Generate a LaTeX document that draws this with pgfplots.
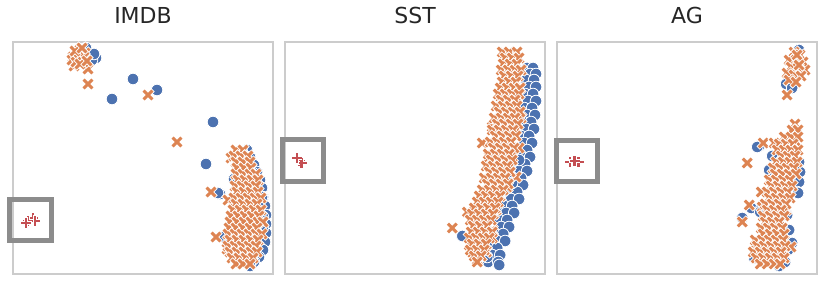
\documentclass[border=0pt]{standalone}
\usepackage{pgfplots}
\pgfplotsset{compat=1.18}
\usepackage{fontspec}
\setmainfont{DejaVu Sans}
\definecolor{sbBlue}{HTML}{4C72B0}
\definecolor{sbOrange}{HTML}{DD8452}
\definecolor{sbRed}{HTML}{C44E52}
\definecolor{frameGray}{HTML}{CCCCCC}
\definecolor{boxGray}{HTML}{8C8C8C}
\definecolor{titleCol}{HTML}{262626}

\pgfdeclareplotmark{wx}{%
  \pgfsetbuttcap
  \pgfsetlinewidth{4.6pt}\pgfsetstrokecolor{white}%
  \pgfpathmoveto{\pgfqpoint{-1.15\pgfplotmarksize}{-1.15\pgfplotmarksize}}%
  \pgfpathlineto{\pgfqpoint{1.15\pgfplotmarksize}{1.15\pgfplotmarksize}}%
  \pgfpathmoveto{\pgfqpoint{-1.15\pgfplotmarksize}{1.15\pgfplotmarksize}}%
  \pgfpathlineto{\pgfqpoint{1.15\pgfplotmarksize}{-1.15\pgfplotmarksize}}%
  \pgfusepathqstroke
  \pgfsetlinewidth{3.0pt}\pgfsetstrokecolor{sbOrange}%
  \pgfpathmoveto{\pgfqpoint{-\pgfplotmarksize}{-\pgfplotmarksize}}%
  \pgfpathlineto{\pgfqpoint{\pgfplotmarksize}{\pgfplotmarksize}}%
  \pgfpathmoveto{\pgfqpoint{-\pgfplotmarksize}{\pgfplotmarksize}}%
  \pgfpathlineto{\pgfqpoint{\pgfplotmarksize}{-\pgfplotmarksize}}%
  \pgfusepathqstroke
}
\pgfdeclareplotmark{wp}{%
  \pgfsetbuttcap
  \pgfsetlinewidth{4.4pt}\pgfsetstrokecolor{white}%
  \pgfpathmoveto{\pgfqpoint{-1.2\pgfplotmarksize}{0pt}}%
  \pgfpathlineto{\pgfqpoint{1.2\pgfplotmarksize}{0pt}}%
  \pgfpathmoveto{\pgfqpoint{0pt}{1.2\pgfplotmarksize}}%
  \pgfpathlineto{\pgfqpoint{0pt}{-1.2\pgfplotmarksize}}%
  \pgfusepathqstroke
  \pgfsetlinewidth{2.9pt}\pgfsetstrokecolor{sbRed}%
  \pgfpathmoveto{\pgfqpoint{-\pgfplotmarksize}{0pt}}%
  \pgfpathlineto{\pgfqpoint{\pgfplotmarksize}{0pt}}%
  \pgfpathmoveto{\pgfqpoint{0pt}{\pgfplotmarksize}}%
  \pgfpathlineto{\pgfqpoint{0pt}{-\pgfplotmarksize}}%
  \pgfusepathqstroke
}

\tikzset{gbox/.style={draw=boxGray, line width=5pt, line join=miter}}
\pgfplotsset{
  panel/.style={
    scale only axis, width=260pt, height=232pt,
    y dir=reverse, ymin=42, ymax=274,
    ticks=none, clip=false,
    axis line style={draw=frameGray, line width=1.6pt},
    anchor=north west,
    title style={font=\fontsize{22}{26}\selectfont, text=titleCol, anchor=base, at={(0.5,1)}, yshift=12pt, inner sep=0pt},
  },
  sBlue/.style={only marks, mark=*, mark size=5.8pt, mark options={draw=white, fill=sbBlue, line width=0.8pt}},
  sOrng/.style={only marks, mark=wx, mark size=4.4pt},
  sRed/.style={only marks, mark=wp, mark size=4.6pt},
}

\begin{document}
\begin{tikzpicture}
\useasboundingbox (0pt,0pt) rectangle (831pt,-288pt);

% ---------------- IMDB ----------------
\begin{axis}[panel, at={(13pt,-42pt)}, xmin=13, xmax=273, title={IMDB}]
\draw[gbox] (axis cs:9,199.5) rectangle (axis cs:51,240);
\addplot[sBlue] coordinates {
(96,58) (92,60) (88,52) (86,48) (94,54)
(133,79) (112,99) (157,90) (213,122) (206,164)
(247,150) (250,157) (254,165) (257,172) (260,180) (262,188) (263,197) (265,206)
(266,215) (266,224) (266,233) (265,242) (263,250) (259,257) (254,262) (250,266)
(242,152) (245,157) (234,179) (220,194) (218,193) (225,236) (224,237) (242,193)
(262,197) (263,217) (263,227) (252,260) (248,166) (253,173)
};
\addplot[sOrng] coordinates {
(78,54) (74,66) (88,69) (83,62) (73,57) (80,50) (85,53) (72,60) (78,58) (84,57)
(76,62) (80,64) (87,61) (75,51) (82,48) (88,84) (148,95) (177,142)
(236,151) (231,158) (240,178) (252,192) (211,192) (228,200) (248,212) (240,222)
(216,237) (248,240) (227,249) (237,257) (247,252) (238,243)
(236,150) (243,150)
(234,156) (241,156) (248,156)
(236,162) (243,162) (250,162)
(237,168) (244,168) (251,168)
(236,174) (243,174) (250,174) (256,174)
(238,180) (245,180) (252,180) (258,180)
(235,186) (242,186) (249,186) (256,186)
(237,192) (244,192) (251,192) (258,192)
(234,198) (241,198) (248,198) (255,198) (261,198)
(236,204) (243,204) (250,204) (257,204)
(233,210) (240,210) (247,210) (254,210) (261,210)
(231,216) (238,216) (245,216) (252,216) (259,216)
(230,222) (237,222) (244,222) (251,222) (258,222) (263,222)
(229,228) (236,228) (243,228) (250,228) (257,228)
(228,234) (235,234) (242,234) (249,234) (256,234) (262,234)
(230,240) (237,240) (244,240) (251,240) (258,240)
(228,246) (235,246) (242,246) (249,246) (256,246)
(230,252) (237,252) (244,252) (251,252) (257,252)
(232,258) (239,258) (246,258) (253,258)
(236,264) (243,264) (250,264)
};
\addplot[sRed] coordinates {(33,218) (35,221) (28,221) (26,223)};
\end{axis}

% ---------------- SST ----------------
\begin{axis}[panel, at={(285pt,-42pt)}, xmin=285, xmax=546, title={SST}]
\draw[gbox] (axis cs:282,139.8) rectangle (axis cs:324,181.7);
\addplot[sBlue] coordinates {
(528,68) (534,68) (531,74) (537,74) (527,80) (535,80) (530,87) (537,87)
(526,94) (534,94) (529,101) (537,101) (525,108) (533,108) (528,115) (536,115)
(524,122) (532,122) (527,129) (535,129) (522,136) (530,136) (525,143) (533,143)
(520,150) (528,150) (523,157) (531,157) (518,164) (526,164) (520,171) (528,171)
(514,178) (522,178) (516,185) (524,185) (510,192) (518,192) (512,199) (520,199)
(505,206) (513,206) (507,213) (515,213) (500,220) (508,220) (502,227) (510,227)
(496,234) (504,234) (498,241) (506,241) (490,248) (498,248) (493,255) (501,255)
(489,262) (499,262) (463,236) (500,265) (520,160) (513,183) (488,257)
};
\addplot[sOrng] coordinates {
(505,53) (517,53) (510,62) (517,63) (513,73) (502,97) (517,97) (510,102)
(500,112) (510,120) (522,118) (493,127) (517,130) (483,143) (507,138) (520,148)
(490,157) (502,157) (513,157) (490,173) (502,173) (510,167) (517,177) (493,185)
(483,197) (508,187) (497,197) (468,212) (487,210) (497,210) (472,220) (483,220)
(453,228) (477,227) (493,230) (470,245) (483,243) (473,252) (478,260) (493,238) (487,252)
(503,52) (510,52) (518,52)
(506,58) (513,58) (520,58)
(504,64) (511,64) (518,64)
(502,70) (509,70) (516,70) (522,70)
(505,76) (512,76) (519,76)
(503,82) (510,82) (517,82)
(501,88) (508,88) (515,88) (521,88)
(499,94) (506,94) (513,94) (520,94)
(502,100) (509,100) (516,100)
(497,106) (504,106) (511,106) (518,106)
(500,112) (507,112) (514,112) (521,112)
(495,118) (502,118) (509,118) (516,118)
(498,124) (505,124) (512,124) (519,124)
(493,130) (500,130) (507,130) (514,130)
(496,136) (503,136) (510,136) (517,136)
(491,142) (498,142) (505,142) (512,142)
(494,148) (501,148) (508,148) (515,148)
(489,154) (496,154) (503,154) (510,154)
(492,160) (499,160) (506,160) (513,160)
(487,166) (494,166) (501,166) (508,166)
(490,172) (497,172) (504,172) (511,172)
(485,178) (492,178) (499,178) (506,178)
(488,184) (495,184) (502,184) (509,184)
(483,190) (490,190) (497,190) (504,190)
(480,196) (487,196) (494,196) (501,196)
(478,202) (485,202) (492,202) (499,202)
(475,208) (482,208) (489,208) (496,208)
(473,214) (480,214) (487,214) (494,214)
(471,220) (478,220) (485,220) (492,220)
(474,226) (481,226) (488,226)
(472,232) (479,232) (486,232) (493,232)
(470,238) (477,238) (484,238) (490,238)
(473,244) (480,244) (487,244)
(471,250) (478,250) (485,250)
(475,256) (482,256)
(478,262)
};
\addplot[sRed] coordinates {(300,161) (302,163) (297,158)};
\end{axis}

% ---------------- AG ----------------
\begin{axis}[panel, at={(557pt,-42pt)}, xmin=557, xmax=818, title={AG}]
\draw[gbox] (axis cs:556,140) rectangle (axis cs:598,181.5);
\addplot[sBlue] coordinates {
(800,50) (787,84) (793,88)
(798,132) (760,146) (758,147) (773,156) (800,162) (801,172) (800,182) (798,192)
(799,193) (752,208) (762,209) (761,212) (743,218) (793,243) (789,250) (770,170)
(775,200) (788,215) (790,230) (760,245) (770,262) (780,266) (755,258) (786,262)
};
\addplot[sOrng] coordinates {
(795,52) (801,55) (790,60) (797,60) (804,62) (792,67) (799,68) (806,70)
(788,73) (795,75) (802,76) (790,80) (797,82) (788,95) (798,55) (800,65)
(796,124) (764,143) (775,143) (787,145) (797,142) (795,155) (748,163) (783,162)
(780,173) (792,173) (773,180) (762,192) (787,185) (783,197) (750,205) (763,207)
(773,210) (787,210) (743,222) (772,220) (780,220) (770,228) (782,230) (763,242)
(777,242) (757,250) (770,250) (792,247) (760,258) (773,257) (783,257) (767,263)
(793,130) (799,130)
(785,137) (792,137) (799,137)
(780,144) (787,144) (794,144)
(778,150) (785,150) (792,150) (799,150)
(782,156) (789,156) (796,156)
(777,162) (784,162) (791,162) (798,162)
(774,168) (781,168) (788,168) (795,168)
(776,174) (783,174) (790,174) (797,174)
(770,180) (777,180) (784,180) (791,180)
(772,186) (779,186) (786,186) (793,186)
(768,192) (775,192) (782,192) (789,192)
(770,198) (777,198) (784,198) (791,198)
(766,204) (773,204) (780,204) (787,204)
(768,210) (775,210) (782,210)
(764,216) (771,216) (778,216) (785,216)
(766,222) (773,222) (780,222)
(762,228) (769,228) (776,228) (783,228)
(764,234) (771,234) (778,234) (785,234)
(756,240) (763,240) (770,240) (777,240) (784,240)
(758,246) (765,246) (772,246) (779,246) (786,246)
(754,252) (761,252) (768,252) (775,252) (782,252)
(757,258) (764,258) (771,258) (778,258) (785,258)
(761,264) (768,264) (775,264) (781,264)
};
\addplot[sRed] coordinates {(570,162) (579,162) (575,161)};
\end{axis}
\end{tikzpicture}
\end{document}
